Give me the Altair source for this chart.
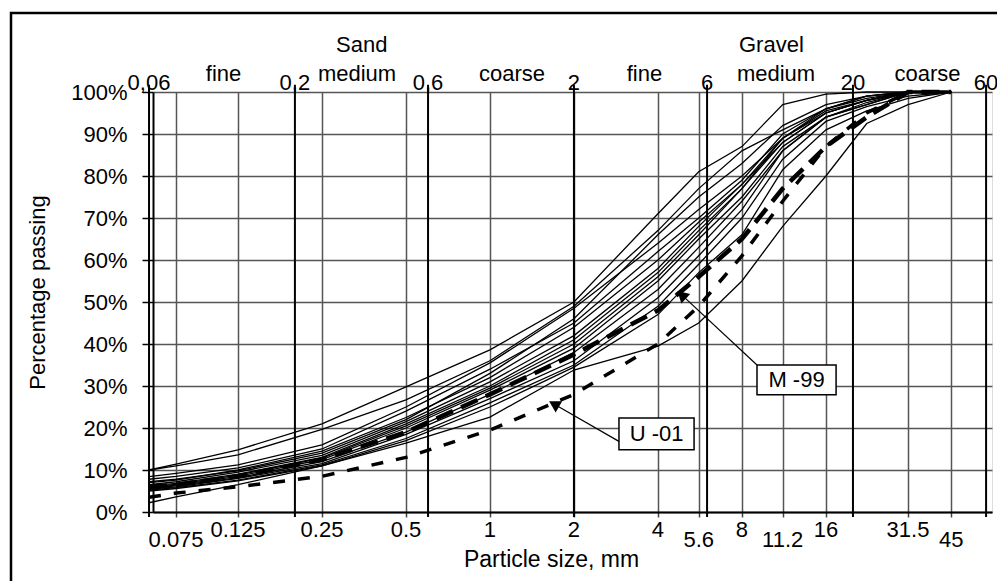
import altair as alt
import pandas as pd

# ---------------- data ----------------
sieve_mm = [0.06, 0.075, 0.125, 0.25, 0.5, 1, 2, 4, 5.6, 8, 11.2, 16, 22.4, 31.5, 45]

solid_curves = [
    [10.0, 11.4, 14.8, 21.0, 29.8, 38.6, 50.0, 71.0, 81.0, 87.0, 97.0, 99.5, 100, 100, 100],
    [10.0, 11.0, 13.6, 19.7, 26.7, 36.0, 49.0, 67.0, 77.0, 86.0, 91.0, 96.0, 99.0, 100, 100],
    [8.4, 9.2, 11.2, 16.0, 25.0, 35.5, 48.5, 64.0, 72.0, 80.0, 89.0, 95.5, 98.0, 100, 100],
    [7.8, 8.5, 10.5, 15.0, 24.0, 34.0, 45.0, 62.0, 70.0, 79.0, 90.0, 96.0, 98.5, 100, 100],
    [7.0, 7.6, 10.0, 14.5, 22.5, 32.0, 44.0, 60.0, 69.0, 78.0, 89.0, 95.0, 98.0, 100, 100],
    [6.5, 7.2, 9.5, 13.5, 21.5, 31.0, 42.0, 58.0, 68.0, 78.0, 88.0, 95.0, 98.0, 100, 100],
    [6.2, 6.8, 9.0, 13.0, 21.0, 30.0, 41.0, 57.0, 67.0, 77.0, 89.0, 96.0, 99.0, 100, 100],
    [6.0, 6.6, 8.8, 12.8, 20.5, 29.5, 40.0, 56.0, 66.0, 77.0, 88.0, 95.0, 98.0, 100, 100],
    [5.8, 6.4, 8.5, 12.5, 20.0, 29.0, 39.0, 55.0, 65.0, 75.0, 87.0, 94.0, 97.5, 100, 100],
    [5.6, 6.2, 8.2, 12.0, 19.0, 28.0, 38.0, 53.0, 63.0, 74.0, 86.0, 94.0, 97.0, 100, 100],
    [5.4, 6.0, 8.0, 11.5, 18.5, 27.0, 36.0, 51.0, 61.0, 72.0, 86.0, 94.0, 97.0, 100, 100],
    [5.2, 5.8, 7.6, 11.2, 17.5, 26.0, 35.0, 49.0, 59.0, 70.0, 84.0, 93.0, 96.5, 99.0, 100],
    [5.0, 5.6, 7.4, 11.0, 17.0, 25.0, 34.5, 47.0, 57.0, 66.0, 81.5, 91.0, 95.5, 98.5, 100],
    [2.2, 3.6, 6.5, 11.0, 16.4, 22.6, 33.8, 39.5, 45.0, 55.0, 68.0, 80.0, 92.5, 97.0, 100],
    [7.2, 7.8, 9.8, 14.0, 22.0, 33.0, 46.0, 66.0, 75.0, 83.0, 92.0, 97.0, 99.0, 100, 100],
]
u01_pass = [3.5, 4.5, 6.0, 8.5, 13.0, 19.5, 28.0, 40.0, 49.0, 61.0, 74.0, 87.0, 95.0, 100, 100]
m99_pass = [6.0, 6.5, 8.5, 12.5, 19.0, 28.0, 37.5, 48.0, 56.0, 65.0, 77.0, 87.0, 94.0, 100, 100]

grid_mm = [0.075, 0.125, 0.25, 0.5, 1, 2, 4, 5.6, 8, 11.2, 16, 31.5, 45]
tick_text = ["0.075", "0.125", "0.25", "0.5", "1", "2", "4", "5.6", "8", "11.2", "16", "31.5", "45"]
lower_row = ["0.075", "5.6", "11.2", "45"]

boundary_mm = [0.06, 0.2, 0.6, 2, 6, 20, 60]
boundary_text = ["0,06", "0,2", "0,6", "2", "6", "20", "60"]

class_text = ["fine", "medium", "coarse", "fine", "medium", "coarse"]
class_mm = [0.111, 0.334, 1.2, 3.58, 10.6, 37.0]
group_text = ["Sand", "Gravel"]
group_mm = [0.347, 10.2]

pct_ticks = list(range(0, 101, 10))

# annotations: label, arrow tip (mm, %), leader end (mm, %), box (mm1, mm2, %1, %2)
ann_label = ["U -01", "M -99"]
ann_tip_mm = [1.72, 4.92]
ann_tip_pct = [25.5, 51.4]
ann_end_mm = [2.92, 9.06]
ann_end_pct = [16.7, 35.0]
ann_box_mm1 = [2.90, 9.06]
ann_box_mm2 = [5.39, 17.4]
ann_box_pct1 = [14.8, 27.9]
ann_box_pct2 = [22.4, 35.0]
ann_angle = [300, 313]

FONT = "Liberation Sans"
FS = 22

# ---------------- frames ----------------
rows = []
for i, vals in enumerate(solid_curves):
    for s, v in zip(sieve_mm, vals):
        rows.append({"curve": f"c{i}", "size": s, "pct": v})
df_solid = pd.DataFrame(rows)
df_u01 = pd.DataFrame({"size": sieve_mm, "pct": u01_pass})
df_m99 = pd.DataFrame({"size": sieve_mm, "pct": m99_pass})
df_ticks = pd.DataFrame({"size": grid_mm, "label": tick_text,
                         "low": [t in lower_row for t in tick_text]})
df_bound = pd.DataFrame({"size": boundary_mm, "label": boundary_text})
df_class = pd.DataFrame({"size": class_mm, "label": class_text})
df_group = pd.DataFrame({"size": group_mm, "label": group_text})
df_ann = pd.DataFrame({
    "label": ann_label, "tip_x": ann_tip_mm, "tip_y": ann_tip_pct,
    "end_x": ann_end_mm, "end_y": ann_end_pct,
    "bx1": ann_box_mm1, "bx2": ann_box_mm2, "by1": ann_box_pct1, "by2": ann_box_pct2,
    "angle": ann_angle,
})
df_ann["cx"] = (df_ann["bx1"] * df_ann["bx2"]) ** 0.5
df_ann["cy"] = (df_ann["by1"] + df_ann["by2"]) / 2

xs = alt.Scale(type="log", domain=[0.062, 63], nice=False)
ys = alt.Scale(domain=[0, 100], nice=False, zero=False)

x_axis = alt.Axis(
    values=grid_mm, labels=False, ticks=True, tickSize=5, tickColor="#444", tickWidth=1.5,
    grid=True, gridColor="#555", gridWidth=1.5, gridOpacity=1,
    domainColor="black", domainWidth=2,
    title="Particle size, mm", titleFont=FONT, titleFontSize=23, titleFontWeight="normal",
    titleColor="black", titleX=398, titleY=54, titleAlign="center", titleBaseline="alphabetic",
    titleAngle=0,
)
y_axis = alt.Axis(
    values=pct_ticks, labelExpr="datum.value + '%'", labelFont=FONT, labelFontSize=FS,
    labelColor="black", tickSize=11, tickColor="black", tickWidth=1.5, labelPadding=15,
    grid=True, gridColor="#555", gridWidth=1.5, gridOpacity=1,
    domainColor="black", domainWidth=2,
    title="Percentage passing", titleFont=FONT, titleFontSize=FS, titleFontWeight="normal",
    titleColor="black", titleX=-116, titleY=200, titleAngle=270, titleAlign="center",
    titleBaseline="middle",
)

frame = alt.Chart(pd.DataFrame({"k": [0]})).mark_rect(
    filled=False, stroke="black", strokeWidth=2.5
).encode(x=alt.value(-142), x2=alt.value(900), y=alt.value(-79), y2=alt.value(600))

solid = alt.Chart(df_solid).mark_line(color="black", strokeWidth=1.3).encode(
    x=alt.X("size:Q", scale=xs, axis=x_axis),
    y=alt.Y("pct:Q", scale=ys, axis=y_axis),
    detail="curve:N",
)

bound_rules = alt.Chart(df_bound).mark_rule(color="black", strokeWidth=2).encode(
    x=alt.X("size:Q", scale=xs), y=alt.datum(101.7), y2=alt.datum(-1.2)
)

u01 = alt.Chart(df_u01).mark_line(color="black", strokeWidth=3.5, strokeDash=[12, 13]).encode(
    x=alt.X("size:Q", scale=xs), y=alt.Y("pct:Q", scale=ys)
)
m99 = alt.Chart(df_m99).mark_line(color="black", strokeWidth=4.5, strokeDash=[18, 9]).encode(
    x=alt.X("size:Q", scale=xs), y=alt.Y("pct:Q", scale=ys)
)

leaders = alt.Chart(df_ann).mark_rule(color="black", strokeWidth=1.2).encode(
    x=alt.X("tip_x:Q", scale=xs), x2="end_x:Q",
    y=alt.Y("tip_y:Q", scale=ys), y2="end_y:Q",
)
arrows = alt.Chart(df_ann).mark_point(
    shape="triangle", filled=True, color="black", size=170, opacity=1
).encode(
    x=alt.X("tip_x:Q", scale=xs), y=alt.Y("tip_y:Q", scale=ys),
    angle=alt.Angle("angle:Q", scale=None),
)
boxes = alt.Chart(df_ann).mark_rect(fill="white", stroke="black", strokeWidth=1.5).encode(
    x=alt.X("bx1:Q", scale=xs), x2="bx2:Q",
    y=alt.Y("by1:Q", scale=ys), y2="by2:Q",
)
box_text = alt.Chart(df_ann).mark_text(
    font=FONT, fontSize=FS, color="black", baseline="middle", align="center"
).encode(
    x=alt.X("cx:Q", scale=xs), y=alt.Y("cy:Q", scale=ys), text="label:N"
)

tick_lab_hi = alt.Chart(df_ticks).transform_filter("!datum.low").mark_text(
    font=FONT, fontSize=FS, color="black", baseline="alphabetic", align="center", dy=25
).encode(x=alt.X("size:Q", scale=xs), y=alt.datum(0), text="label:N")
tick_lab_lo = alt.Chart(df_ticks).transform_filter("datum.low").mark_text(
    font=FONT, fontSize=FS, color="black", baseline="alphabetic", align="center", dy=35
).encode(x=alt.X("size:Q", scale=xs), y=alt.datum(0), text="label:N")

bound_text = alt.Chart(df_bound).mark_text(
    font=FONT, fontSize=FS, color="black", baseline="alphabetic", align="center"
).encode(x=alt.X("size:Q", scale=xs), y=alt.datum(100.5), text="label:N")
class_lab = alt.Chart(df_class).mark_text(
    font=FONT, fontSize=FS, color="black", baseline="alphabetic", align="center"
).encode(x=alt.X("size:Q", scale=xs), y=alt.datum(102.6), text="label:N")
group_lab = alt.Chart(df_group).mark_text(
    font=FONT, fontSize=FS, color="black", baseline="alphabetic", align="center"
).encode(x=alt.X("size:Q", scale=xs), y=alt.datum(109.5), text="label:N")

chart = alt.layer(
    frame, solid, bound_rules, u01, m99, leaders, arrows, boxes, box_text,
    tick_lab_hi, tick_lab_lo, bound_text, class_lab, group_lab,
).properties(
    width=839, height=420,
    autosize=alt.AutoSizeParams(type="none"),
    padding={"left": 153, "top": 92, "right": 5, "bottom": 69},
    background="white",
).configure_view(stroke="black", strokeWidth=1.5).configure(font=FONT)

chart.save("out.html", embed_options={"renderer": "svg", "actions": False})
